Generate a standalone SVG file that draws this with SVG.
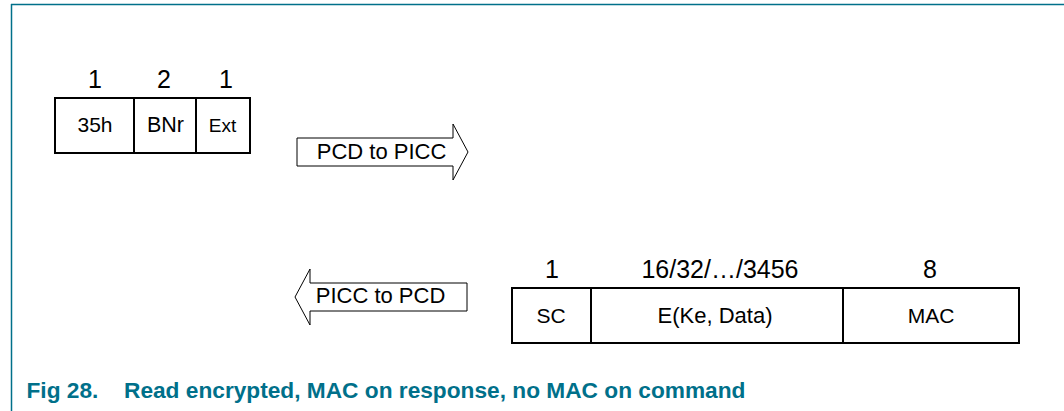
<svg xmlns="http://www.w3.org/2000/svg" width="1064" height="411" viewBox="0 0 1064 411">
<style>
.t{font-family:"Liberation Sans",Arial,sans-serif;fill:#000;text-anchor:middle}
.lbl{font-size:25px}
.box{fill:#fff;stroke:#000;stroke-width:2}
.div{stroke:#000;stroke-width:2}
.arr{fill:#fff;stroke:#000;stroke-width:1}
.cap{font-family:"Liberation Sans",Arial,sans-serif;font-weight:bold;font-size:22.7px;fill:#00708A}
</style>
<rect width="1064" height="411" fill="#fff"/>
<g id="frame" stroke="#00708A" stroke-width="1.5" fill="none">
<line x1="11" y1="4.5" x2="1064" y2="4.5"/>
<line x1="11.5" y1="4" x2="11.5" y2="411"/>
</g>
<g id="command">
<text class="t lbl" x="95" y="88">1</text>
<text class="t lbl" x="164" y="88">2</text>
<text class="t lbl" x="226" y="88">1</text>
<rect class="box" x="55" y="98" width="195" height="55"/>
<line class="div" x1="134" y1="98" x2="134" y2="153"/>
<line class="div" x1="196" y1="98" x2="196" y2="153"/>
<text class="t" x="95" y="132" font-size="21">35h</text>
<text class="t" x="165.5" y="132" font-size="21.5">BNr</text>
<text class="t" x="222.5" y="132" font-size="19">Ext</text>
</g>
<g id="connectors">
<g id="arrow-pcd-to-picc">
<polygon class="arr" points="297,138 453,138 453,124 468,152 453,180 453,166 297,166"/>
<text class="t" x="381.5" y="159" font-size="22">PCD to PICC</text>
</g>
<g id="arrow-picc-to-pcd">
<polygon class="arr" points="467,283 310,283 310,269 295,297 310,325 310,311 467,311"/>
<text class="t" x="380.5" y="303" font-size="22">PICC to PCD</text>
</g>
</g>
<g id="response">
<text class="t lbl" x="552" y="278">1</text>
<text class="t lbl" x="720" y="278">16/32/…/3456</text>
<text class="t lbl" x="930" y="278">8</text>
<rect class="box" x="512" y="288" width="507" height="55"/>
<line class="div" x1="591" y1="288" x2="591" y2="343"/>
<line class="div" x1="843" y1="288" x2="843" y2="343"/>
<text class="t" x="551" y="323" font-size="21">SC</text>
<text class="t" x="715" y="323" font-size="22">E(Ke, Data)</text>
<text class="t" x="931" y="323" font-size="21">MAC</text>
</g>
<g id="caption">
<text class="cap" x="26.5" y="398">Fig 28.</text>
<text class="cap" x="124" y="398">Read encrypted, MAC on response, no MAC on command</text>
</g>
</svg>
